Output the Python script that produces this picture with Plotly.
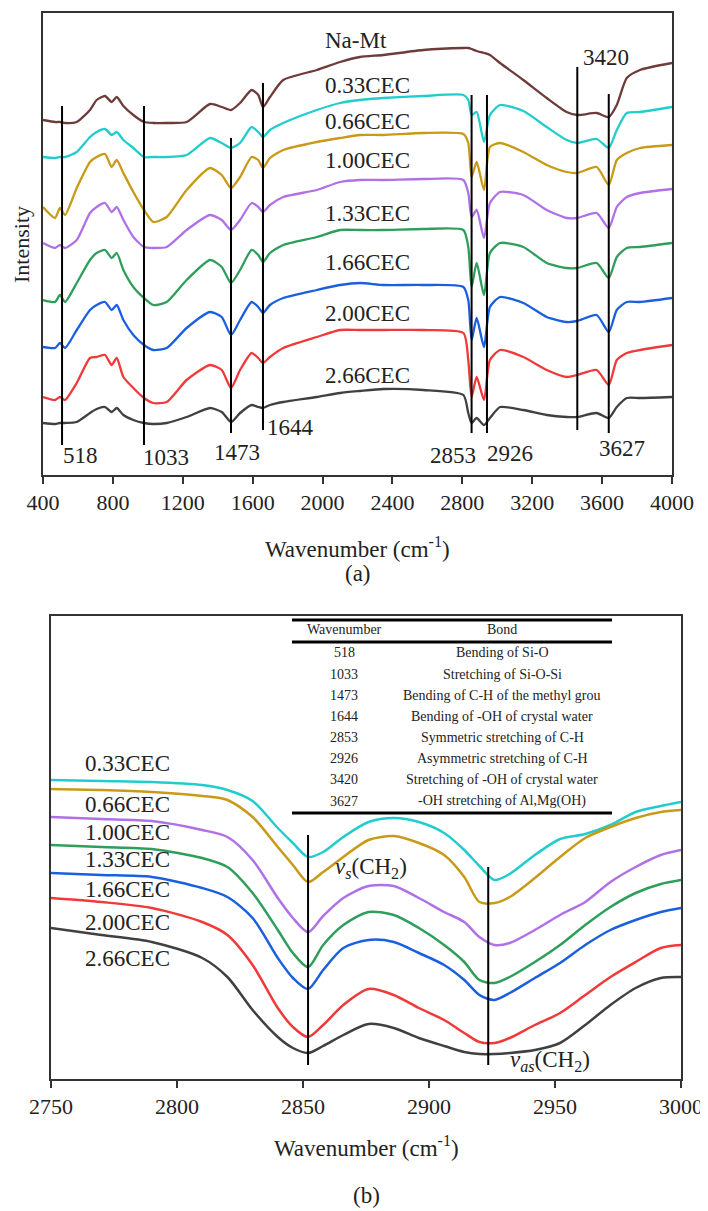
import plotly.graph_objects as go

FONT = "Liberation Serif, Times New Roman, serif"
INK = "#222222"

# ---- (a) full FTIR spectra, 400-4000 cm-1 (offset traces, arbitrary units) ----
wn_full = [400, 469, 497, 526, 593, 669, 707, 755, 793, 822, 860, 917, 978, 1031, 1108,
           1222, 1356, 1423, 1476, 1528, 1594, 1632, 1659, 1699, 1775, 1967, 2100, 2214,
           2348, 2577, 2806, 2834, 2853, 2882, 2924, 2958, 3016, 3149, 3283, 3397, 3458,
           3569, 3638, 3684, 3741, 3817, 4000]

na_mt = [355, 353, 353, 352, 353, 365, 375, 379, 373, 378, 369, 360, 353, 352, 352, 353,
         371, 368, 365, 372, 385, 380, 368, 378, 395, 405, 413, 418, 420, 425, 427, 427,
         426, 424, 422, 420, 412, 395, 377, 363, 360, 362, 358, 370, 397, 405, 412]
cec_033 = [318, 317, 318, 318, 323, 338, 343, 346, 340, 343, 335, 327, 318, 318, 318, 320,
           337, 332, 327, 332, 348, 343, 338, 345, 352, 365, 372, 375, 377, 379, 380, 375,
           360, 363, 333, 360, 370, 364, 348, 335, 332, 336, 327, 345, 362, 363, 368]
cec_066 = [268, 257, 267, 260, 287, 313, 318, 321, 308, 315, 302, 283, 265, 253, 258, 285,
           307, 300, 287, 298, 318, 315, 307, 317, 325, 333, 337, 340, 340, 342, 341, 332,
           298, 313, 285, 328, 332, 323, 310, 303, 302, 308, 290, 315, 322, 327, 330]
cec_100 = [232, 227, 230, 227, 235, 262, 268, 272, 263, 268, 255, 238, 228, 227, 228, 245,
           260, 255, 245, 255, 272, 268, 263, 270, 278, 285, 293, 295, 295, 296, 295, 282,
           258, 265, 237, 272, 283, 280, 265, 257, 257, 262, 247, 268, 278, 282, 286]
cec_133 = [175, 173, 180, 173, 192, 215, 222, 225, 217, 222, 205, 188, 177, 170, 173, 195,
           215, 208, 192, 205, 225, 220, 213, 222, 230, 238, 245, 245, 245, 246, 245, 228,
           188, 212, 180, 222, 232, 228, 212, 207, 207, 212, 197, 218, 227, 228, 232]
cec_166 = [128, 127, 132, 127, 145, 165, 170, 173, 165, 170, 155, 140, 130, 125, 127, 147,
           163, 158, 140, 155, 173, 168, 162, 170, 177, 185, 190, 192, 190, 190, 188, 175,
           135, 157, 128, 168, 178, 172, 158, 153, 154, 160, 143, 165, 173, 173, 177]
cec_200 = [78, 75, 78, 75, 92, 117, 118, 120, 110, 117, 98, 87, 77, 72, 73, 95,
           110, 105, 87, 105, 122, 117, 112, 118, 127, 138, 145, 145, 145, 145, 142, 115,
           78, 98, 75, 115, 125, 118, 105, 98, 100, 105, 90, 115, 122, 125, 130]
cec_266 = [52, 51, 52, 52, 53, 62, 66, 68, 63, 67, 60, 55, 52, 51, 52, 58,
           67, 63, 53, 62, 70, 68, 67, 70, 73, 78, 82, 84, 86, 85, 80, 62,
           52, 57, 50, 57, 68, 65, 60, 58, 58, 62, 57, 68, 77, 77, 78]

names_full = ["Na-Mt", "0.33CEC", "0.66CEC", "1.00CEC", "1.33CEC", "1.66CEC", "2.00CEC", "2.66CEC"]
series_full = [na_mt, cec_033, cec_066, cec_100, cec_133, cec_166, cec_200, cec_266]
colors_full = ["#6E3B3B", "#22CCCC", "#C99A17", "#B070E6", "#2E9E5A", "#1A5FE0", "#F03A3A", "#404040"]

# band marker lines drawn in (a): where they sit, and the labels printed under/over them
band_labels = ["518", "1033", "1473", "1644", "2853", "2926", "3420", "3627"]
band_line_x = [509, 978, 1476, 1659, 2853, 2941, 3458, 3638]

# ---- (b) C-H stretching region, 2750-3000 cm-1 ----
wn_zoom = [2750, 2770, 2790, 2810, 2820, 2830, 2840, 2846, 2852, 2858, 2866, 2876, 2886,
           2896, 2906, 2914, 2920, 2926, 2932, 2942, 2952, 2962, 2972, 2982, 2992, 3000]

z_033 = [299, 298, 297, 294, 289, 278, 251, 236, 222, 227, 242, 257, 261,
         257, 246, 229, 213, 199, 205, 224, 240, 245, 254, 267, 273, 277]
z_066 = [290, 289, 287, 283, 279, 262, 232, 214, 197, 207, 222, 239, 243,
         236, 224, 202, 177, 176, 182, 201, 222, 241, 252, 261, 267, 269]
z_100 = [262, 260, 258, 249, 242, 219, 181, 161, 147, 163, 181, 193, 193,
         181, 167, 157, 142, 134, 136, 149, 164, 177, 197, 212, 224, 229]
z_133 = [234, 232, 230, 221, 212, 186, 149, 126, 112, 134, 154, 167, 164,
         151, 134, 117, 99, 96, 102, 117, 134, 154, 172, 186, 195, 199]
z_166 = [206, 204, 202, 191, 182, 161, 121, 101, 90, 109, 131, 139, 137,
         126, 114, 99, 84, 79, 86, 101, 116, 134, 149, 159, 167, 171]
z_200 = [181, 177, 171, 157, 144, 114, 71, 52, 42, 54, 74, 90, 84,
         71, 59, 46, 37, 36, 41, 54, 66, 84, 102, 117, 131, 134]
z_266 = [151, 144, 137, 121, 102, 69, 42, 31, 26, 33, 44, 55, 51,
         41, 33, 27, 25, 25, 26, 29, 36, 54, 74, 91, 101, 102]

names_zoom = names_full[1:]
series_zoom = [z_033, z_066, z_100, z_133, z_166, z_200, z_266]
colors_zoom = colors_full[1:]

# inset table of band assignments
table_wn = ["518", "1033", "1473", "1644", "2853", "2926", "3420", "3627"]
table_bond = ["Bending of Si-O", "Stretching of Si-O-Si", "Bending of C-H of the methyl grou",
              "Bending of -OH of crystal water", "Symmetric stretching of C-H",
              "Asymmetric stretching of C-H", "Stretching of -OH of crystal water",
              "-OH stretching of Al,Mg(OH)"]

# the page puts the plot 8px in from the top-left corner, so the figure is
# made 8px smaller and every pixel position is shifted back by that amount
OFF = 8
W, H = 708 - OFF, 1211 - OFF


def fx(x_px):
    return (x_px - OFF) / W


def fy(y_px):
    return 1 - (y_px - OFF) / H


def note(text, x, y, xref, yref, size=23, **kw):
    d = dict(text=text, x=x, y=y, xref=xref, yref=yref, showarrow=False,
             xanchor="center", yanchor="middle",
             font=dict(size=size, color=INK, family=FONT))
    d.update(kw)
    return d


fig = go.Figure()

for name, ys, col in zip(names_full, series_full, colors_full):
    fig.add_trace(go.Scatter(x=wn_full, y=ys, mode="lines", name=name, showlegend=False,
                             line=dict(color=col, width=2.3, shape="spline", smoothing=0.6),
                             xaxis="x", yaxis="y", hoverinfo="skip"))

for name, ys, col in zip(names_zoom, series_zoom, colors_zoom):
    fig.add_trace(go.Scatter(x=wn_zoom, y=ys, mode="lines", name=name, showlegend=False,
                             line=dict(color=col, width=2.5, shape="spline", smoothing=0.8),
                             xaxis="x2", yaxis="y2", hoverinfo="skip"))

shapes = []
annotations = []

# (a) vertical band lines + labels
line_top = [369, 369, 337, 392, 380, 380, 408, 381]
line_bot = [30, 30, 42, 45, 42, 42, 45, 42]
label_x = [612, 1104, 1510, 1814, 2747, 3073, 3622, 3714]
label_y = [20, 18, 23, 48, 20, 22, 418, 27]
for xv, y0, y1 in zip(band_line_x, line_bot, line_top):
    shapes.append(dict(type="line", xref="x", yref="y", x0=xv, x1=xv, y0=y0, y1=y1,
                       line=dict(color="black", width=2)))
for txt, xv, yv in zip(band_labels, label_x, label_y):
    annotations.append(note(txt, xv, yv, "x", "y"))

# (a) curve names
name_y_full = [435, 390, 354, 315, 262, 213, 162, 100]
for txt, yv in zip(names_full, name_y_full):
    annotations.append(note(txt, 2003, yv, "x", "y", xanchor="left"))

# (b) vertical lines at the CH2 minima
shapes.append(dict(type="line", xref="x2", yref="y2", x0=2852, x1=2852, y0=14, y1=244,
                   line=dict(color="black", width=2)))
shapes.append(dict(type="line", xref="x2", yref="y2", x0=2923.5, x1=2923.5, y0=14, y1=212,
                   line=dict(color="black", width=2)))
annotations.append(note("<i>v</i><sub><i>s</i></sub>(CH<sub>2</sub>)", 2877, 211, "x2", "y2"))
annotations.append(note("<i>v</i><sub><i>as</i></sub>(CH<sub>2</sub>)", 2948, 18, "x2", "y2"))

name_y_zoom = [316, 275, 247, 220, 190, 157, 121]
for txt, yv in zip(names_zoom, name_y_zoom):
    annotations.append(note(txt, 2762.7, yv, "x2", "y2", xanchor="left"))

# (b) inset table (positions in subplot-domain fractions)
tx0, tx1 = 0.3825, 0.8905
col_wn, col_bond = 0.4651, 0.7159
for yf in [0.9914, 0.9438, 0.5745]:
    shapes.append(dict(type="line", xref="x2 domain", yref="y2 domain", x0=tx0, x1=tx1,
                       y0=yf, y1=yf, line=dict(color="black", width=3)))
annotations.append(note("Wavenumber", col_wn, 0.9698, "x2 domain", "y2 domain", size=14))
annotations.append(note("Bond", col_bond, 0.9698, "x2 domain", "y2 domain", size=14))
for i, (a, b) in enumerate(zip(table_wn, table_bond)):
    yf = 0.9201 - i * 0.0457
    annotations.append(note(a, col_wn, yf, "x2 domain", "y2 domain", size=14))
    annotations.append(note(b, col_bond, yf, "x2 domain", "y2 domain", size=14))

# axis titles and panel tags
annotations += [
    note("Wavenumber (cm<sup>-1</sup>)", fx(357.5), fy(547), "paper", "paper"),
    note("(a)", fx(357.5), fy(573), "paper", "paper"),
    note("Intensity", fx(21), fy(245), "paper", "paper", size=22, textangle=-90),
    note("Wavenumber (cm<sup>-1</sup>)", fx(366), fy(1146), "paper", "paper"),
    note("(b)", fx(366), fy(1195), "paper", "paper"),
]

frame = dict(showline=True, mirror=True, linecolor="#333333", linewidth=1.6,
             showgrid=False, zeroline=False, automargin=False)

fig.update_layout(
    template="none",
    width=W, height=H,
    margin=dict(l=0, r=0, t=0, b=0, pad=0, autoexpand=False),
    paper_bgcolor="white", plot_bgcolor="white",
    font=dict(family=FONT, color=INK),
    showlegend=False,
    xaxis=dict(domain=[fx(43), fx(672)], range=[400, 4000], tickvals=list(range(400, 4001, 400)),
               ticks="outside", ticklen=7, tickwidth=1.6, tickcolor="#333333",
               tickfont=dict(size=22, family=FONT, color=INK), anchor="y", **frame),
    yaxis=dict(domain=[fy(475), fy(13)], range=[0, 462], showticklabels=False, ticks="",
               anchor="x", **frame),
    xaxis2=dict(domain=[fx(51), fx(681)], range=[2750, 3000], tickvals=list(range(2750, 3001, 50)),
                ticks="outside", ticklen=7, tickwidth=1.6, tickcolor="#333333",
                tickfont=dict(size=22, family=FONT, color=INK), anchor="y2", **frame),
    yaxis2=dict(domain=[fy(1079), fy(616)], range=[0, 463], showticklabels=False, ticks="",
                anchor="x2", **frame),
    shapes=shapes,
    annotations=annotations,
)

fig.write_html("out.html")
